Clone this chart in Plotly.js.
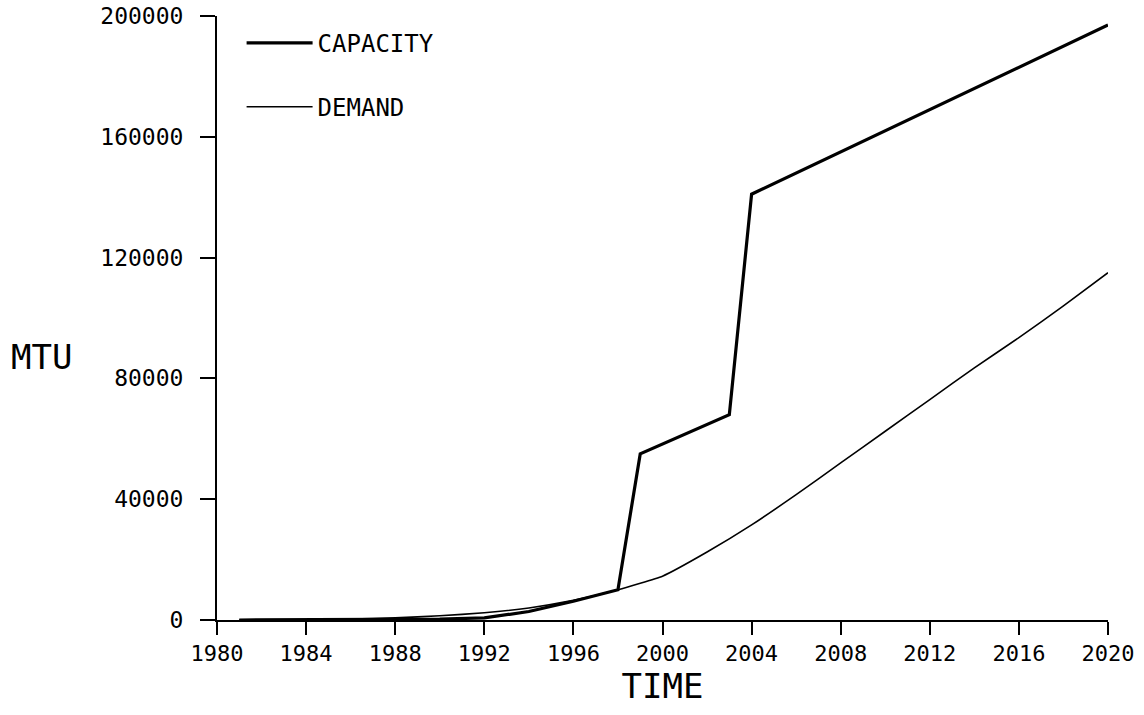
<!DOCTYPE html>
<html>
<head>
<meta charset="utf-8">
<script src="https://cdn.plot.ly/plotly-3.0.1.min.js"></script>
<style>
html,body{margin:0;padding:0;background:#fff;}
#chart{width:1144px;height:715px;}
</style>
</head>
<body>
<div id="chart"></div>
<script>
// Data
var capacityYears = [1981, 1986, 1988, 1990, 1992, 1994, 1996, 1998, 1999, 2003, 2004, 2020];
var capacityValues = [0, 100, 200, 300, 700, 2800, 6200, 10000, 55000, 68000, 141000, 197000];

var demandYears = [1981, 1984, 1986, 1988, 1990, 1992, 1994, 1996, 1998, 2000, 2002, 2004, 2006, 2008, 2010, 2012, 2014, 2016, 2018, 2020];
var demandValues = [0, 100, 300, 700, 1400, 2400, 4000, 6500, 10000, 14500, 22500, 31500, 41500, 52000, 62500, 73000, 83500, 93500, 104000, 115000];

var xTickVals = [1980, 1984, 1988, 1992, 1996, 2000, 2004, 2008, 2012, 2016, 2020];
var yTickVals = [0, 40000, 80000, 120000, 160000, 200000];

var FONT = 'DejaVu Sans Mono, monospace';

var traces = [
  {
    x: capacityYears, y: capacityValues, name: 'CAPACITY', mode: 'lines',
    line: {color: '#000', width: 3.2}, legend: 'legend'
  },
  {
    x: demandYears, y: demandValues, name: 'DEMAND', mode: 'lines',
    line: {color: '#000', width: 1.6, shape: 'spline', smoothing: 0.4}, legend: 'legend2'
  }
];

var layout = {
  width: 1144, height: 715,
  paper_bgcolor: '#fff', plot_bgcolor: '#fff',
  margin: {l: 217, r: 36, t: 16, b: 95},
  font: {family: FONT, color: '#000', size: 22},
  showlegend: true,
  legend: {
    x: 0.0276, y: 0.955, xanchor: 'left', yanchor: 'middle', itemwidth: 66,
    bgcolor: 'rgba(0,0,0,0)', font: {family: FONT, size: 24, color: '#000'}
  },
  legend2: {
    x: 0.0276, y: 0.849, xanchor: 'left', yanchor: 'middle', itemwidth: 66,
    bgcolor: 'rgba(0,0,0,0)', font: {family: FONT, size: 24, color: '#000'}
  },
  xaxis: {
    range: [1980, 2020], tickvals: xTickVals, ticktext: xTickVals.map(String),
    showgrid: false, zeroline: false, showline: true, linecolor: '#000', linewidth: 2,
    ticks: 'outside', ticklen: 13, tickwidth: 2, tickcolor: '#000',
    tickfont: {family: FONT, size: 22, color: '#000'},
    title: {text: 'TIME', font: {family: FONT, size: 34, color: '#000'}, standoff: 6}
  },
  yaxis: {
    range: [0, 200000], tickvals: yTickVals, ticktext: yTickVals.map(String),
    showgrid: false, zeroline: false, showline: true, linecolor: '#000', linewidth: 2,
    ticks: 'outside', ticklen: 15, tickwidth: 2, tickcolor: '#000',
    ticklabelstandoff: 12,
    tickfont: {family: FONT, size: 23, color: '#000'}
  },
  annotations: [
    {
      text: 'MTU', xref: 'paper', yref: 'paper', x: -0.233, y: 0.435,
      xanchor: 'left', yanchor: 'middle', showarrow: false,
      font: {family: FONT, size: 34, color: '#000'}
    }
  ]
};

Plotly.newPlot('chart', traces, layout, {staticPlot: true, displayModeBar: false});
</script>
</body>
</html>
